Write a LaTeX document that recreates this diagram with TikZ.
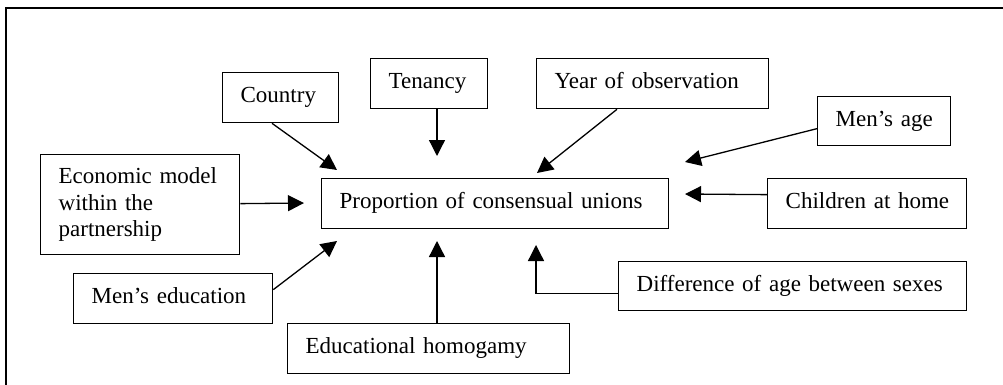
\documentclass[tikz,border=0pt]{standalone}
\usepackage{fontspec}
\setmainfont{Liberation Serif}
\usetikzlibrary{arrows.meta,calc}
\begin{document}
\begin{tikzpicture}[x=1pt,y=-1pt,
  box/.style={draw, line width=1.3pt, anchor=north west, inner xsep=18pt, inner ysep=0pt, align=left,
    font=\fontsize{23}{26.5}\selectfont},
  one/.style={text height=16pt, text depth=6pt},
  arr/.style={line width=1.3pt, -{Triangle[length=16pt,width=16pt]}},
  frame/.style={line width=1.8pt}]
\useasboundingbox (0,0) rectangle (1003,385);
\draw[frame] (6,392) -- (6,8) -- (1010,8);
% boxes
\node[box,one,minimum width=116pt,minimum height=50pt,text width=80pt] (country) at (222,72) {\mbox{Country}};
\node[box,one,minimum width=117pt,minimum height=50pt,text width=81pt] (tenancy) at (370,58) {\mbox{Tenancy}};
\node[box,one,minimum width=232pt,minimum height=50pt,text width=196pt] (year) at (536,58) {\mbox{Year of observation}};
\node[box,one,minimum width=133pt,minimum height=49pt,text width=97pt] (menage) at (817,96) {\mbox{Men’s age}};
\node[box,minimum width=199pt,minimum height=100pt,text width=163pt] (econ) at (40,154) {Economic model\\within the\\partnership};
\node[box,one,minimum width=347pt,minimum height=50pt,text width=311pt] (prop) at (321,178) {\mbox{Proportion of consensual unions}};
\node[box,one,minimum width=199pt,minimum height=50pt,text width=163pt] (child) at (767,178) {\mbox{Children at home}};
\node[box,one,minimum width=199pt,minimum height=50pt,text width=163pt] (medu) at (73,273) {\mbox{Men’s education}};
\node[box,one,minimum width=348pt,minimum height=49pt,text width=312pt] (diff) at (618,261) {\mbox{Difference of age between sexes}};
\node[box,one,minimum width=282pt,minimum height=50pt,text width=246pt] (homo) at (287,323) {\mbox{Educational homogamy}};
% arrow tips (free ends near the central box)
\coordinate (tCountry) at (337,170);
\coordinate (tTenancy) at (437,156);
\coordinate (tYear) at (537,173);
\coordinate (tMenage) at (685,162);
\coordinate (tChild) at (685,194);
\coordinate (tEcon) at (304,203);
\coordinate (tMedu) at (337,241);
\coordinate (tHomo) at (437,241);
\coordinate (tDiff) at (536,245);
% connectors
\draw[arr] ($(country.south west)+(50,0)$) -- (tCountry);
\draw[arr] ($(tenancy.south west)+(67,0)$) -- (tTenancy);
\draw[arr] ($(year.south west)+(81,0)$) -- (tYear);
\draw[arr] ($(menage.west)+(0,7.5)$) -- (tMenage);
\draw[arr] ($(child.west)+(0,-9)$) -- (tChild);
\draw[arr] (econ.east) ++(0,-1) -- (tEcon);
\draw[arr] ($(medu.east)+(0,-9)$) -- (tMedu);
\draw[arr] ($(homo.north west)+(150,0)$) -- (tHomo);
\draw[arr] ($(diff.west)+(0,7.5)$) -| (tDiff);
\end{tikzpicture}
\end{document}
